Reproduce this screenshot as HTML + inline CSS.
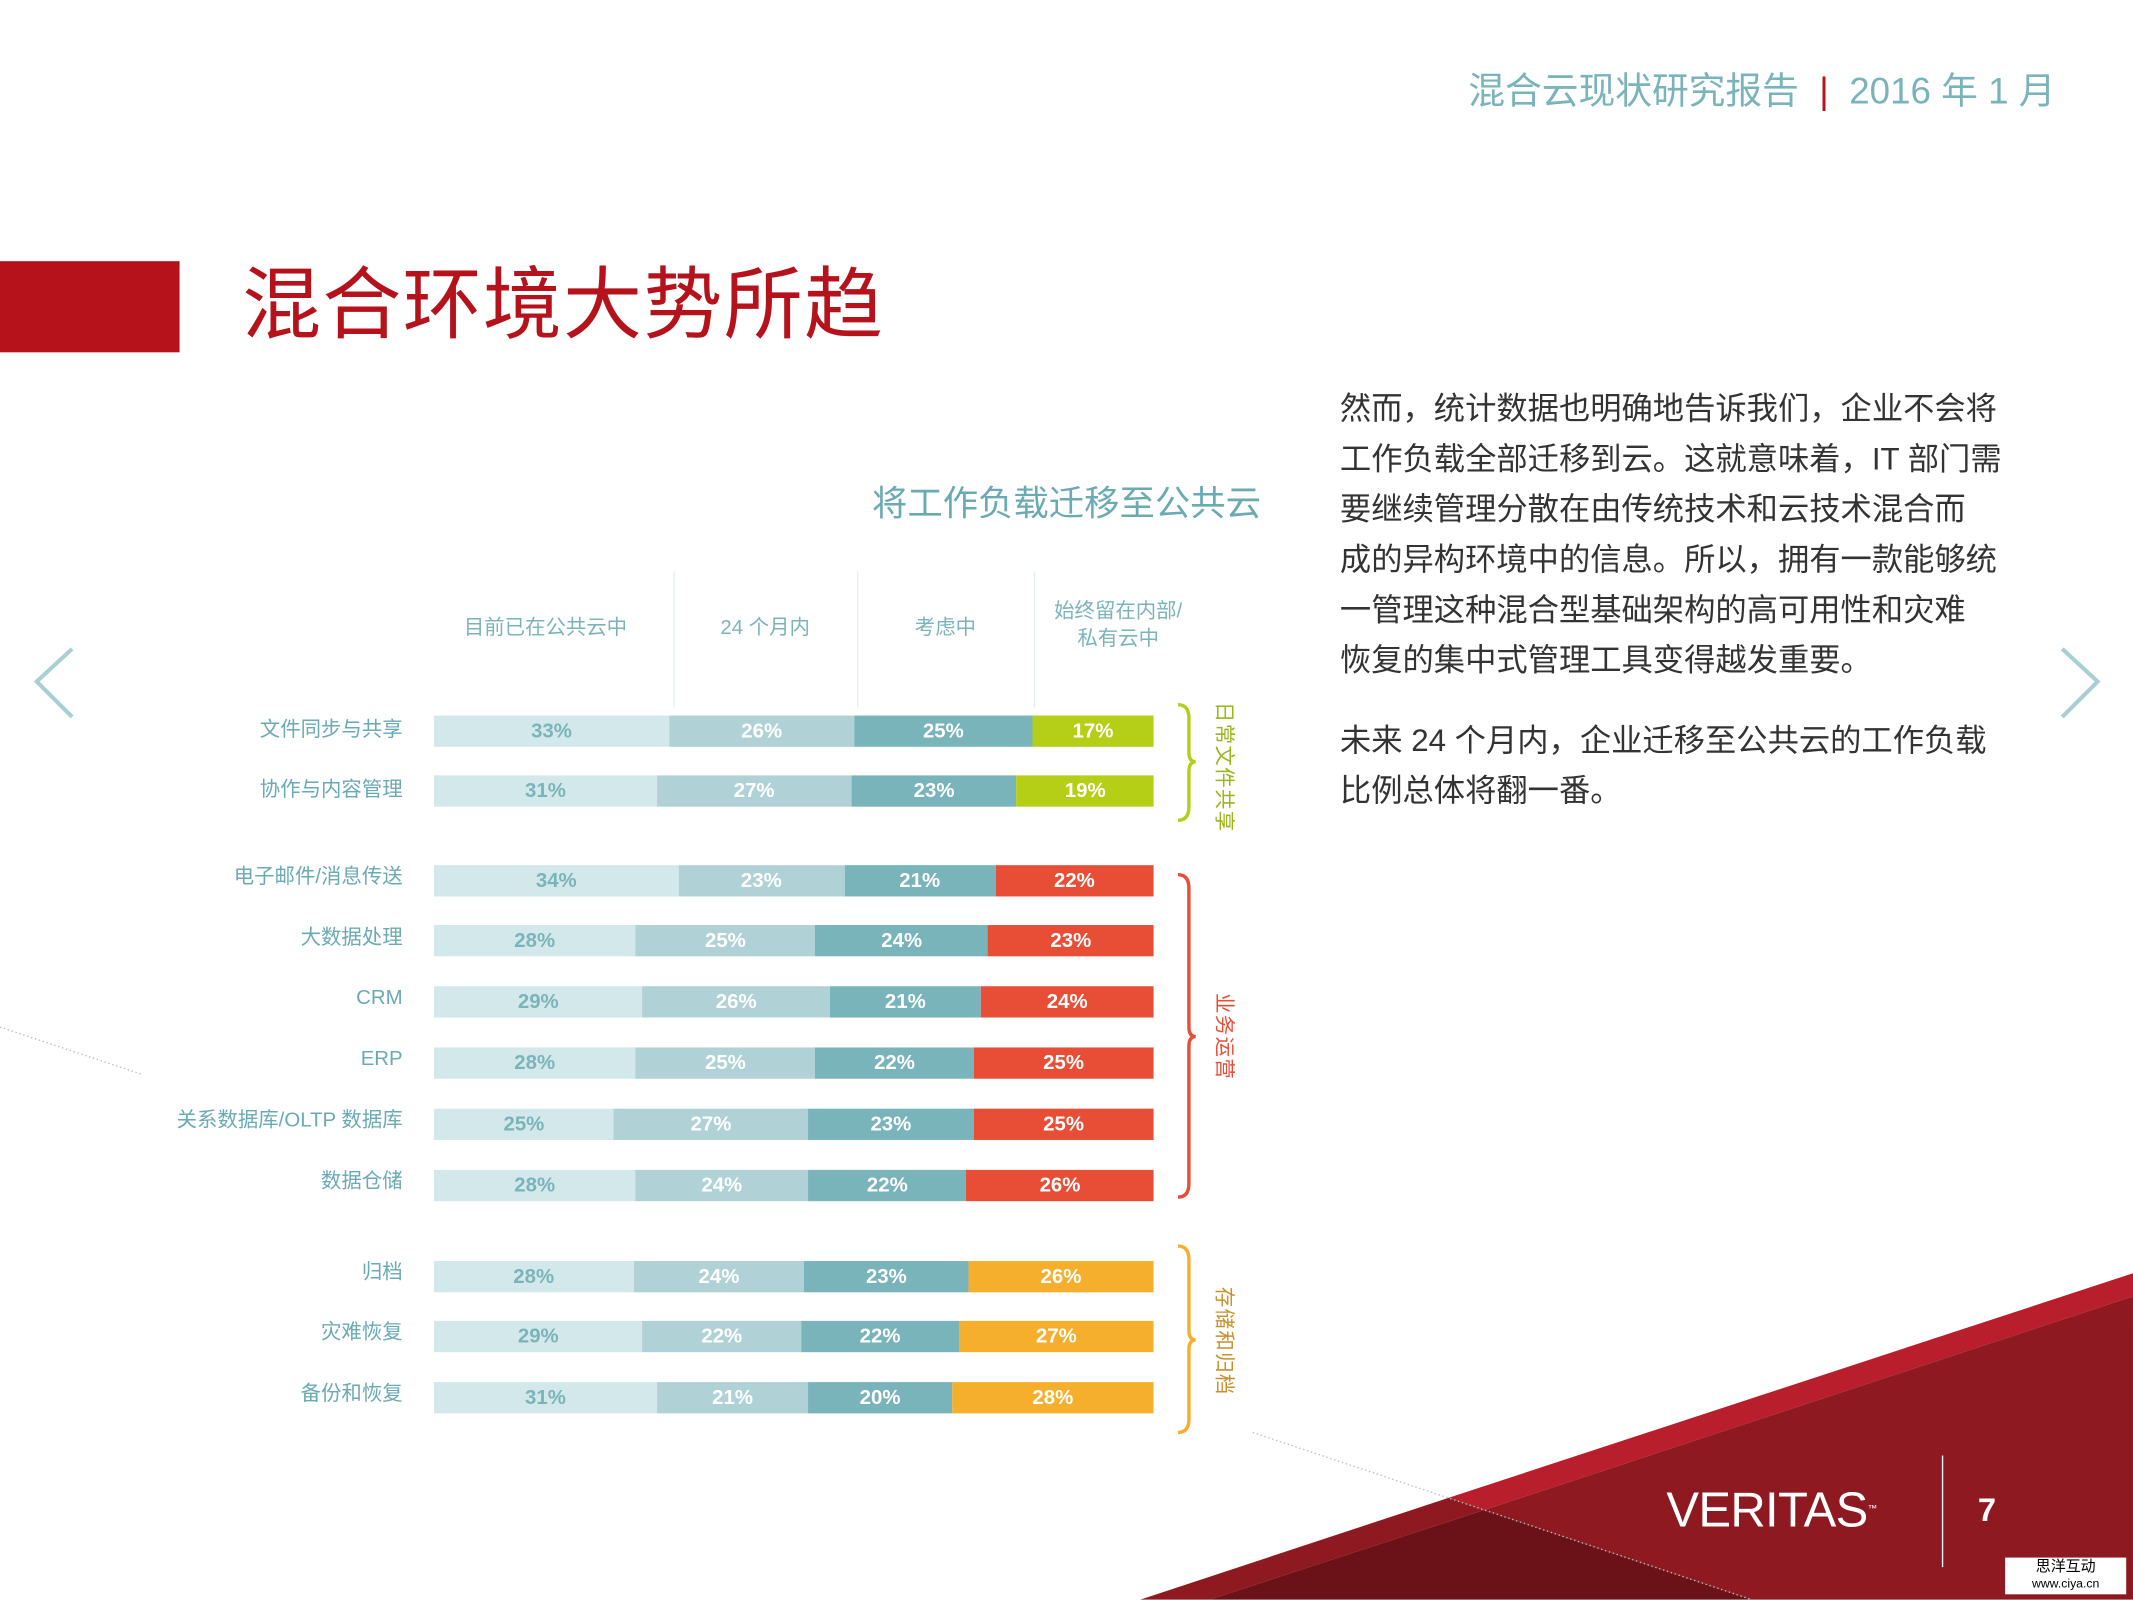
<!DOCTYPE html>
<html><head><meta charset="utf-8"><style>
html,body{margin:0;padding:0;background:#fff;overflow:hidden}
body{width:2133px;height:1600px;position:relative}
#w{position:absolute;left:0;top:0;width:1568px;height:1176px;transform:scale(1.36033);transform-origin:0 0;font-family:"Liberation Sans","Noto Sans CJK SC",sans-serif}
.a{position:absolute}
.bar{position:absolute;left:319px;width:529px;height:23px;display:flex}
.bar span{display:block;height:23px;line-height:23px;text-align:center;color:#fff;font-weight:bold;font-size:15px;white-space:nowrap;overflow:hidden}
.c1{background:#d3e8ea;color:#7ab4bb!important}.c2{background:#b0d2d6}.c3{background:#7ab4bb}
.g{background:#b5cf17}.r{background:#e84e35}.o{background:#f6ae2d}
.lab{position:absolute;right:1272px;font-size:15px;color:#6aaab3;white-space:nowrap;line-height:20px}
.hd{position:absolute;font-size:15px;color:#7ab4bb;text-align:center;line-height:20px}
.vl{position:absolute;top:420px;width:1px;height:100px;background:#e2eff1}
.vt{position:absolute;writing-mode:vertical-rl;text-orientation:sideways;font-size:15px;letter-spacing:1px;line-height:18px}
p{margin:0}
</style></head><body><div id="w">
<svg class="a" style="left:0;top:0" width="1568" height="1176">
<line x1="0" y1="755" x2="105" y2="790" stroke="#bbb" stroke-width="1" stroke-dasharray="1,2"/>
<polygon points="1065,1101 1568,936 1568,953 1091,1110" fill="#b91e2c"/>
<polygon points="838,1176 1065,1101 1091,1110 889,1176" fill="#8e1920"/>
<polygon points="1091,1110 1568,953 1568,1176 1288,1176" fill="#8e1920"/>
<polygon points="889,1176 1091,1110 1288,1176" fill="#6b1218"/>
<line x1="921" y1="1053" x2="1288" y2="1176" stroke="#bbb" stroke-width="1" stroke-dasharray="1,2"/>
<line x1="1428" y1="1070" x2="1428" y2="1152" stroke="#fff" stroke-width="1"/>
<polyline points="53,477 27,501 53,527" fill="none" stroke="#a8d0d4" stroke-width="3"/>
<polyline points="1516,477 1542,501 1516,527" fill="none" stroke="#a8d0d4" stroke-width="3"/>
<path d="M866,518 Q874,518 874,528 L874,553 Q874,560 879,560 Q874,560 874,567 L874,593 Q874,603 866,603" fill="none" stroke="#b5cf17" stroke-width="2.5"/>
<path d="M866,643 Q874,643 874,653 L874,755 Q874,762 879,762 Q874,762 874,769 L874,870 Q874,880 866,880" fill="none" stroke="#e84e35" stroke-width="2.5"/>
<path d="M866,916 Q874,916 874,926 L874,978 Q874,985 879,985 Q874,985 874,992 L874,1043 Q874,1053 866,1053" fill="none" stroke="#f6ae2d" stroke-width="2.5"/>
</svg>
<div class="a" style="left:0;top:192px;width:132px;height:67px;background:#b5121b"></div>
<div class="a" style="left:178px;top:190px;font-size:58px;color:#b5121b;line-height:70px;letter-spacing:1px">混合环境大势所趋</div>
<div class="a" style="right:57px;top:50px;font-size:27px;color:#7ab4bb;line-height:34px;white-space:nowrap">混合云现状研究报告&nbsp;&nbsp;<span style="color:#b5121b">|</span>&nbsp;&nbsp;2016 年 1 月</div>
<div class="a" style="right:641px;top:354px;font-size:26px;color:#6aaab3;line-height:32px">将工作负载迁移至公共云</div>
<div class="a" style="left:985px;top:282px;font-size:23px;line-height:37px;color:#333;white-space:nowrap">
<p>然而，统计数据也明确地告诉我们，企业不会将<br>工作负载全部迁移到云。这就意味着，IT 部门需<br>要继续管理分散在由传统技术和云技术混合而<br>成的异构环境中的信息。所以，拥有一款能够统<br>一管理这种混合型基础架构的高可用性和灾难<br>恢复的集中式管理工具变得越发重要。</p>
<p style="margin-top:22px">未来 24 个月内，企业迁移至公共云的工作负载<br>比例总体将翻一番。</p></div>
<div class="vl" style="left:495px"></div><div class="vl" style="left:630px"></div><div class="vl" style="left:760px"></div>
<div class="hd" style="left:321px;width:160px;top:452px">目前已在公共云中</div>
<div class="hd" style="left:495px;width:135px;top:452px">24 个月内</div>
<div class="hd" style="left:630px;width:130px;top:452px">考虑中</div>
<div class="hd" style="left:760px;width:124px;top:440px">始终留在内部/<br>私有云中</div>

<div class="lab" style="top:527px">文件同步与共享</div>
<div class="bar" style="top:526px"><span class="c1" style="flex:33">33%</span><span class="c2" style="flex:26">26%</span><span class="c3" style="flex:25">25%</span><span class="g" style="flex:17">17%</span></div>
<div class="lab" style="top:571px">协作与内容管理</div>
<div class="bar" style="top:570px"><span class="c1" style="flex:31">31%</span><span class="c2" style="flex:27">27%</span><span class="c3" style="flex:23">23%</span><span class="g" style="flex:19">19%</span></div>
<div class="lab" style="top:635px">电子邮件/消息传送</div>
<div class="bar" style="top:636px"><span class="c1" style="flex:34">34%</span><span class="c2" style="flex:23">23%</span><span class="c3" style="flex:21">21%</span><span class="r" style="flex:22">22%</span></div>
<div class="lab" style="top:680px">大数据处理</div>
<div class="bar" style="top:680px"><span class="c1" style="flex:28">28%</span><span class="c2" style="flex:25">25%</span><span class="c3" style="flex:24">24%</span><span class="r" style="flex:23">23%</span></div>
<div class="lab" style="top:724px">CRM</div>
<div class="bar" style="top:725px"><span class="c1" style="flex:29">29%</span><span class="c2" style="flex:26">26%</span><span class="c3" style="flex:21">21%</span><span class="r" style="flex:24">24%</span></div>
<div class="lab" style="top:769px">ERP</div>
<div class="bar" style="top:770px"><span class="c1" style="flex:28">28%</span><span class="c2" style="flex:25">25%</span><span class="c3" style="flex:22">22%</span><span class="r" style="flex:25">25%</span></div>
<div class="lab" style="top:814px">关系数据库/OLTP 数据库</div>
<div class="bar" style="top:815px"><span class="c1" style="flex:25">25%</span><span class="c2" style="flex:27">27%</span><span class="c3" style="flex:23">23%</span><span class="r" style="flex:25">25%</span></div>
<div class="lab" style="top:859px">数据仓储</div>
<div class="bar" style="top:860px"><span class="c1" style="flex:28">28%</span><span class="c2" style="flex:24">24%</span><span class="c3" style="flex:22">22%</span><span class="r" style="flex:26">26%</span></div>
<div class="lab" style="top:926px">归档</div>
<div class="bar" style="top:927px"><span class="c1" style="flex:28">28%</span><span class="c2" style="flex:24">24%</span><span class="c3" style="flex:23">23%</span><span class="o" style="flex:26">26%</span></div>
<div class="lab" style="top:970px">灾难恢复</div>
<div class="bar" style="top:971px"><span class="c1" style="flex:29">29%</span><span class="c2" style="flex:22">22%</span><span class="c3" style="flex:22">22%</span><span class="o" style="flex:27">27%</span></div>
<div class="lab" style="top:1015px">备份和恢复</div>
<div class="bar" style="top:1016px"><span class="c1" style="flex:31">31%</span><span class="c2" style="flex:21">21%</span><span class="c3" style="flex:20">20%</span><span class="o" style="flex:28">28%</span></div>

<div class="vt" style="left:890px;top:516px;color:#9ab515">日常文件共享</div>
<div class="vt" style="left:890px;top:730px;color:#e84e35">业务运营</div>
<div class="vt" style="left:890px;top:946px;color:#c8912c">存储和归档</div>

<div class="a" style="left:1225px;top:1089px;font-size:36px;color:#fff;line-height:42px;letter-spacing:-0.5px">VERITAS<span style="font-size:7px;vertical-align:top">™</span></div>
<div class="a" style="left:1454px;top:1097px;font-size:24px;font-weight:bold;color:#fff">7</div>
<div class="a" style="left:1474px;top:1145px;width:89px;height:26px;background:#fff;text-align:center;font-size:11px;line-height:12px;color:#000;padding-top:1px">思洋互动<br><span style="font-size:9px">www.ciya.cn</span></div>
</div></body></html>
